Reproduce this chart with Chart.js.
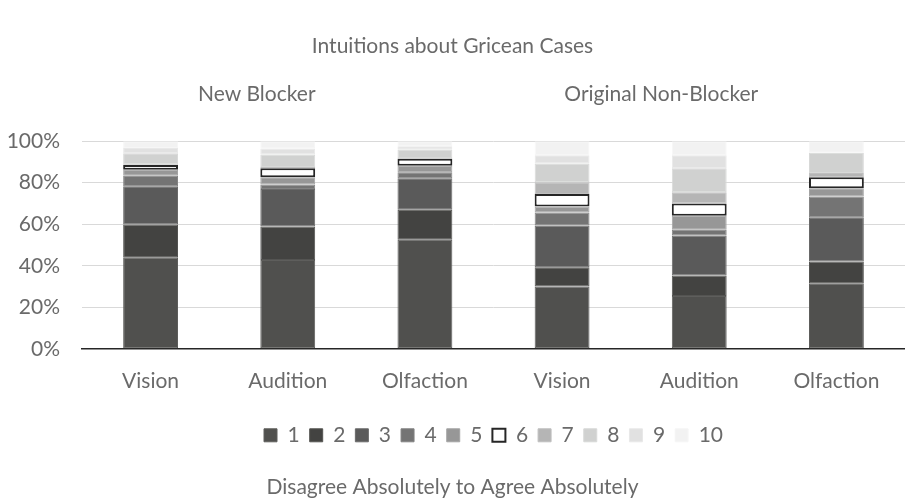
<!DOCTYPE html>
<html><head><meta charset="utf-8">
<script src="https://cdn.jsdelivr.net/npm/chart.js@4.4.1/dist/chart.umd.min.js"></script>
<style>html,body{margin:0;padding:0;background:#fff}</style>
</head><body>
<canvas id="c" width="905" height="503"></canvas>
<script>
const categories = ['Vision', 'Audition', 'Olfaction', 'Vision', 'Audition', 'Olfaction'];
const seriesNames = ['1', '2', '3', '4', '5', '6', '7', '8', '9', '10'];
const r1  = [43.8, 42.8, 52.5, 30.0, 25.4, 31.6];
const r2  = [16.1, 16.1, 14.5,  9.3,  9.9, 10.4];
const r3  = [18.4, 18.1, 15.1, 20.1, 19.3, 21.4];
const r4  = [ 5.1,  2.1,  2.9,  6.3,  2.7, 10.0];
const r5  = [ 2.8,  3.5,  3.2,  2.9,  6.8,  3.9];
const r6  = [ 2.3,  4.4,  3.3,  6.0,  5.9,  5.3];
const r7  = [ 0.4,  0.6,  0.4,  5.6,  5.4,  2.1];
const r8  = [ 5.3,  6.0,  4.1,  9.0, 11.6,  9.7];
const r9  = [ 2.5,  2.9,  1.6,  4.0,  6.2,  0.0];
const r10 = [ 3.3,  3.5,  2.4,  6.8,  6.8,  5.6];
const groupLabels = ['New Blocker', 'Original Non-Blocker'];
const chartTitle = 'Intuitions about Gricean Cases';
const axisTitle = 'Disagree Absolutely to Agree Absolutely';
const yTickStep = 20;

const seriesValues = [r1, r2, r3, r4, r5, r6, r7, r8, r9, r10];
const fills   = ['#50504e', '#434341', '#5a5a5a', '#747474', '#979797', '#ffffff', '#b5b5b5', '#d0d1d0', '#e1e1e1', '#f2f2f2'];
const strokes = ['#5e5e5c', '#545452', '#6a6a6a', '#848484', '#a4a4a4', '#262626', '#bfbfbf', '#d8d9d8', '#e8e8e8', '#f6f6f6'];
const FONT = "Lato, 'Open Sans', sans-serif";
const TXT = '#6a6a6a';
const FS = 21;

const datasets = seriesValues.map((vals, i) => ({
  label: seriesNames[i],
  data: vals,
  backgroundColor: fills[i],
  borderColor: strokes[i],
  borderWidth: i === 5 ? 2 : 1,
  borderSkipped: false,
  categoryPercentage: 1.0,
  barPercentage: 0.4
}));

const groupLabelPlugin = {
  id: 'groupLabels',
  afterDraw(chart) {
    const ctx = chart.ctx, x = chart.scales.x;
    ctx.save();
    ctx.font = FS + 'px ' + FONT;
    ctx.fillStyle = TXT;
    ctx.textAlign = 'center';
    ctx.textBaseline = 'middle';
    ctx.fillText(groupLabels[0], x.getPixelForValue(1) - 31, 94);
    ctx.fillText(groupLabels[1], x.getPixelForValue(4) - 38, 94);
    ctx.restore();
  }
};

new Chart(document.getElementById('c'), {
  type: 'bar',
  data: { labels: categories, datasets },
  plugins: [groupLabelPlugin],
  options: {
    responsive: false,
    animation: false,
    devicePixelRatio: 1,
    layout: { padding: { left: 0, right: 0, top: 0, bottom: 0 } },
    plugins: {
      title: { display: true, text: chartTitle, position: 'top', color: TXT,
               font: { family: FONT, size: FS, weight: 'normal' }, padding: { top: 34, bottom: 82 } },
      subtitle: { display: true, text: axisTitle, position: 'bottom', color: TXT,
               font: { family: FONT, size: FS, weight: 'normal' }, padding: { top: 19, bottom: 3 } },
      legend: { position: 'bottom', fullSize: false,
        labels: { boxWidth: 13, boxHeight: 13, padding: 10, color: TXT, font: { family: FONT, size: FS } } },
      tooltip: { enabled: false }
    },
    scales: {
      x: { stacked: true,
           grid: { display: false, drawTicks: false },
           border: { color: '#262626', width: 1.5 },
           ticks: { color: TXT, padding: 20, font: { family: FONT, size: FS } },
           afterFit(s) { s.height = 66; } },
      y: { stacked: true, min: 0, max: 100,
           grid: { color: '#d9d9d9', lineWidth: 1, drawTicks: false },
           border: { display: false },
           ticks: { stepSize: yTickStep, padding: 22, color: TXT, font: { family: FONT, size: FS },
                    callback: v => v + '%' },
           afterFit(s) { s.width = 82; } }
    }
  }
});
</script>
</body></html>
